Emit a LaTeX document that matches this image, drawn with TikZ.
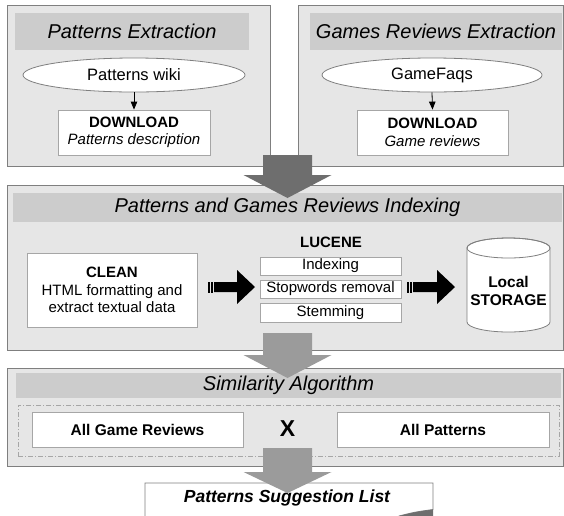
\documentclass[tikz,border=0pt]{standalone}
\usepackage{fontspec}
\setmainfont{Liberation Sans}
\usetikzlibrary{arrows.meta,shapes.geometric}
\definecolor{panelfill}{HTML}{E6E6E6}
\definecolor{panelline}{HTML}{7F7F7F}
\definecolor{bandfill}{HTML}{CCCCCC}
\definecolor{boxline}{HTML}{A6A6A6}
\definecolor{darkarrow}{HTML}{6E6E6E}
\definecolor{lightarrow}{HTML}{9B9B9B}
\begin{document}
\begin{tikzpicture}[x=1pt,y=-1pt,
  panel/.style={draw=panelline, fill=panelfill, line width=0.9pt, inner sep=0pt, outer sep=0pt},
  band/.style={fill=bandfill, inner sep=0pt, font=\fontsize{20}{24}\selectfont\itshape, text=black},
  wbox/.style={draw=boxline, fill=white, line width=0.8pt, inner sep=0pt, align=center, font=\fontsize{15}{17.5}\selectfont},
  oval/.style={ellipse, draw=panelline, fill=white, line width=0.8pt, inner sep=0pt, font=\fontsize{16.5}{19}\selectfont},
  conn/.style={-{Triangle[length=8pt,width=6.5pt]}, line width=0.8pt},
  bigdark/.style={fill=darkarrow},
  biglight/.style={fill=lightarrow},
  blk/.style={fill=black}
]
\useasboundingbox (0,0) rectangle (564,515);

% ---------- top-left panel ----------
\node[panel, minimum width=263pt, minimum height=161pt] (p1) at (138.5,85.5) {};
\node[band, minimum width=234pt, minimum height=37pt] (b1) at (132,31.5) {Patterns Extraction};
\node[oval, minimum width=222pt, minimum height=34pt] (pw) at (134,75) {Patterns wiki};
\node[wbox, minimum width=152pt, minimum height=45pt] (dl1) at (134,132.5)
  {\textbf{DOWNLOAD}\\\textit{Patterns description}};
\draw[conn] (pw.south) -- (dl1.north);

% ---------- top-right panel ----------
\node[panel, minimum width=265pt, minimum height=161pt] (p2) at (430.5,85.5) {};
\node[band, minimum width=252pt, minimum height=37pt] (b2) at (436,31.5) {Games Reviews Extraction};
\node[oval, minimum width=220pt, minimum height=34pt] (gf) at (432,75) {GameFaqs};
\node[wbox, minimum width=151pt, minimum height=45pt] (dl2) at (432.5,132.5)
  {\textbf{DOWNLOAD}\\\textit{Game reviews}};
\draw[conn] (gf.south) -- (dl2.north);

% ---------- middle panel ----------
\node[panel, minimum width=556pt, minimum height=165pt] (p3) at (285,267.5) {};
\node[band, minimum width=549pt, minimum height=29pt] (b3) at (287.5,207.5) {Patterns and Games Reviews Indexing};
\node[wbox, minimum width=170pt, minimum height=74pt] (clean) at (112,290)
  {\textbf{CLEAN}\\HTML formatting and\\extract textual data};
\node[font=\fontsize{15}{17.5}\selectfont\bfseries, inner sep=0pt] (lucene) at (331,242.5) {LUCENE};
\node[wbox, minimum width=141pt, minimum height=18pt] (idx) at (330.5,266) {Indexing};
\node[wbox, minimum width=141pt, minimum height=18pt] (stop) at (330.5,289) {Stopwords removal};
\node[wbox, minimum width=141pt, minimum height=19pt] (stem) at (330.5,312.5) {Stemming};
% cylinder
\draw[draw=panelline, fill=white, line width=0.8pt]
  (467,248) -- (467,322) arc[start angle=180, end angle=360, x radius=41.5pt, y radius=10pt]
  -- (550,248) arc[start angle=0, end angle=180, x radius=41.5pt, y radius=10pt] -- cycle;
\draw[draw=panelline, line width=0.8pt] (508.5,248) ellipse [x radius=41.5pt, y radius=10pt];
\node[align=center, font=\fontsize{15.5}{18}\selectfont\bfseries, inner sep=0pt] (store) at (508.5,291) {Local\\STORAGE};
% black block arrows
\fill[blk] (207.5,281.5) rectangle (209.5,292.5);
\fill[blk] (211,281.5) rectangle (213,292.5);
\fill[blk] (214,282) -- (237,282) -- (237,270) -- (255,287) -- (237,304) -- (237,292) -- (214,292) -- cycle;
\fill[blk] (406.5,281.5) rectangle (408.5,292.5);
\fill[blk] (410,281.5) rectangle (412,292.5);
\fill[blk] (413,282) -- (437,282) -- (437,270) -- (455,287) -- (437,304) -- (437,292) -- (413,292) -- cycle;

% ---------- similarity panel ----------
\node[panel, minimum width=556pt, minimum height=98pt] (p4) at (285,417) {};
\node[band, minimum width=545pt, minimum height=25pt] (b4) at (288.5,385.5) {Similarity Algorithm};
\node[draw=boxline, dash pattern=on 5pt off 2pt on 1pt off 2pt, line width=0.6pt,
  minimum width=541pt, minimum height=51pt, inner sep=0pt] (dash) at (288.5,430.5) {};
\node[wbox, minimum width=211pt, minimum height=35pt, font=\fontsize{15.5}{18}\selectfont\bfseries] (agr) at (137.5,429.5) {All Game Reviews};
\node[wbox, minimum width=212pt, minimum height=35pt, font=\fontsize{15.5}{18}\selectfont\bfseries] (ap) at (443,429.5) {All Patterns};
\node[font=\fontsize{23}{25}\selectfont\bfseries, inner sep=0pt] (x) at (287.5,429) {X};

% ---------- output document ----------
\draw[draw=panelline, fill=white, line width=0.8pt] (145,520) -- (145,483) -- (433,483) -- (433,509.5)
  .. controls (415,512) .. (399,516) -- (399,520) -- cycle;
\fill[fill=darkarrow] (433,509.5) -- (433,516) -- (399,516) .. controls (415,512) .. (433,509.5);
\node[font=\fontsize{17.5}{20}\selectfont\bfseries\itshape, inner sep=0pt] (psl) at (287,498) {Patterns Suggestion List};

% ---------- big gray arrows ----------
\fill[bigdark] (263,155) -- (312,155) -- (312,175) -- (331.5,175) -- (287.5,198) -- (243.5,175) -- (263,175) -- cycle;
\fill[biglight] (263,333) -- (312,333) -- (312,355) -- (331.5,355) -- (287.5,378) -- (243.5,355) -- (263,355) -- cycle;
\fill[biglight] (263,448) -- (312,448) -- (312,472) -- (331.5,472) -- (287.5,493) -- (243.5,472) -- (263,472) -- cycle;
\end{tikzpicture}
\end{document}
